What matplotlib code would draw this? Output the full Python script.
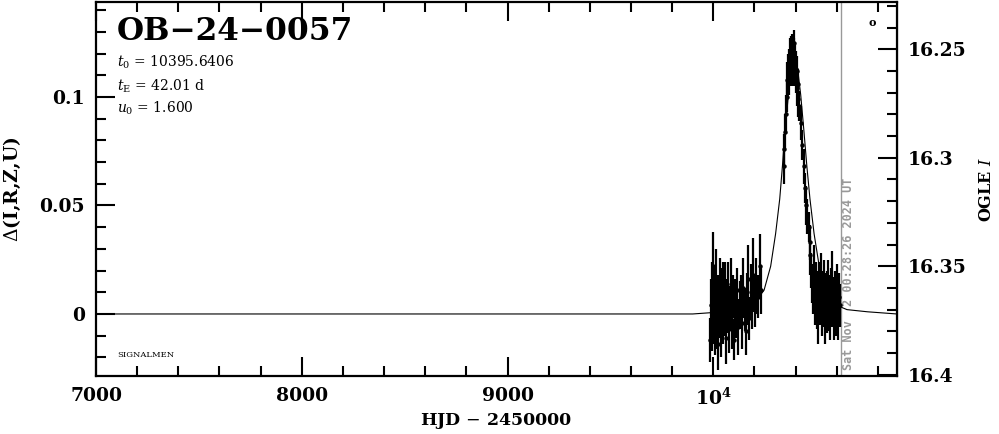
import matplotlib
matplotlib.use("Agg")
import matplotlib.pyplot as plt
from matplotlib.ticker import FixedLocator, MultipleLocator, FuncFormatter

plt.rcParams["font.family"] = "DejaVu Serif"
plt.rcParams["mathtext.fontset"] = "dejavuserif"

# 2023 season (baseline)
t23 = [9986, 9989, 9992, 9995, 9998, 10001, 10004, 10007, 10010, 10013, 10016, 10019,
       10022, 10025, 10028, 10031, 10034, 10037, 10040, 10043, 10046, 10049, 10052, 10056,
       10060, 10064, 10068, 10072, 10076, 10080, 10085, 10090, 10095, 10100, 10105, 10110,
       10116, 10122, 10128, 10134, 10140, 10146, 10152, 10158, 10164, 10170, 10176, 10182,
       10188, 10195, 10202, 10210, 10218, 10226, 10234]
d23 = [-0.012, 0.004, -0.008, 0.010, 0.022, 0.003, -0.004, 0.008, -0.010, 0.015, 0.001, -0.006,
       0.007, -0.014, 0.005, 0.012, -0.002, 0.009, -0.009, 0.004, 0.011, -0.005, 0.002, 0.013,
       -0.011, 0.006, 0.000, 0.010, -0.007, 0.003, 0.014, -0.003, 0.008, -0.012, 0.005, 0.001,
       0.011, -0.006, 0.004, 0.009, -0.004, 0.012, 0.002, -0.008, 0.007, 0.016, -0.002, 0.010,
       0.004, 0.018, 0.006, 0.013, 0.008, 0.022, 0.011]
e23 = [0.010, 0.012, 0.009, 0.014, 0.016, 0.011, 0.010, 0.013, 0.009, 0.015, 0.012, 0.010,
       0.011, 0.012, 0.010, 0.014, 0.009, 0.012, 0.011, 0.010, 0.013, 0.009, 0.012, 0.011,
       0.012, 0.010, 0.009, 0.014, 0.011, 0.010, 0.012, 0.013, 0.010, 0.009, 0.011, 0.012,
       0.010, 0.013, 0.011, 0.009, 0.012, 0.014, 0.010, 0.011, 0.012, 0.016, 0.010, 0.013,
       0.011, 0.017, 0.012, 0.013, 0.010, 0.015, 0.011]

# 2024 season (event)
t24 = [10343, 10346, 10349, 10352, 10356, 10360, 10364, 10367, 10370, 10373, 10376, 10379,
       10382, 10384, 10386, 10388, 10390, 10392, 10394, 10396, 10398, 10400, 10402, 10405,
       10408, 10411, 10414, 10418, 10425, 10433, 10440, 10447, 10453, 10458, 10463, 10468,
       10472, 10477, 10482, 10487, 10491, 10495, 10499, 10503, 10507, 10511, 10515, 10519,
       10523, 10527, 10531, 10535, 10539, 10543, 10547, 10551, 10555, 10559, 10563, 10567,
       10571, 10575, 10579, 10583, 10587, 10591, 10595, 10599, 10603, 10607, 10611, 10615]
d24 = [0.068, 0.076, 0.084, 0.092, 0.100, 0.108, 0.113, 0.110, 0.116, 0.119, 0.112, 0.120,
       0.116, 0.122, 0.113, 0.118, 0.125, 0.115, 0.119, 0.111, 0.117, 0.113, 0.108, 0.112,
       0.104, 0.106, 0.099, 0.096, 0.088, 0.078, 0.068, 0.058, 0.050, 0.045, 0.040, 0.033,
       0.027, 0.020, 0.014, 0.010, 0.018, 0.006, 0.012, 0.003, 0.009, -0.002, 0.011, 0.005,
       0.014, 0.001, 0.008, 0.004, 0.012, -0.003, 0.007, 0.010, 0.002, 0.013, 0.005, -0.001,
       0.009, 0.004, 0.015, 0.006, 0.000, 0.010, 0.003, 0.012, 0.005, -0.002, 0.008, 0.004]
e24 = [0.008, 0.007, 0.008, 0.009, 0.007, 0.008, 0.007, 0.009, 0.006, 0.008, 0.007, 0.008,
       0.006, 0.007, 0.008, 0.006, 0.006, 0.007, 0.008, 0.006, 0.007, 0.008, 0.006, 0.007,
       0.008, 0.007, 0.008, 0.007, 0.008, 0.007, 0.008, 0.007, 0.009, 0.008, 0.007, 0.008,
       0.009, 0.008, 0.009, 0.010, 0.014, 0.011, 0.012, 0.010, 0.011, 0.012, 0.013, 0.010,
       0.014, 0.011, 0.012, 0.010, 0.013, 0.011, 0.012, 0.010, 0.011, 0.012, 0.013, 0.011,
       0.012, 0.010, 0.014, 0.011, 0.012, 0.010, 0.013, 0.011, 0.012, 0.010, 0.011, 0.010]

# model curve
t_model = [7000, 9500, 9900, 10050, 10150, 10200, 10247, 10279, 10303, 10323, 10336, 10350,
           10365, 10380, 10396, 10410, 10425, 10440, 10455, 10470, 10490, 10515, 10550, 10600,
           10650, 10750, 10893]
d_model = [0.000, 0.000, 0.000, 0.001, 0.003, 0.005, 0.011, 0.022, 0.037, 0.053, 0.068, 0.085,
           0.101, 0.113, 0.117, 0.113, 0.101, 0.085, 0.068, 0.053, 0.037, 0.022, 0.010, 0.004,
           0.002, 0.001, 0.000]

I_base = 16.372
t_now = 10620
now_label = "Sat Nov  2 00:28:26 2024 UT"

fig = plt.figure(figsize=(9.99, 4.34), dpi=100)
ax = fig.add_axes([0.0961, 0.1336, 0.8018, 0.8618])

ax.plot(t_model, d_model, color="black", lw=0.8, zorder=2)
ax.errorbar(t23 + t24, d23 + d24, yerr=e23 + e24, fmt="o", ms=2.2, color="black",
            ecolor="black", elinewidth=1.6, capsize=0, zorder=3)

ax.axvline(t_now, color="#999999", lw=1.0, zorder=1)
ax.text(t_now + 8, -0.026, now_label, rotation=90, color="#999999", fontsize=8.5,
        family="DejaVu Sans Mono", fontweight="bold", ha="left", va="bottom")

ax.set_xlim(7000, 10893)
ax.set_ylim(-0.0286, 0.1438)

ax.xaxis.set_major_locator(FixedLocator([7000, 8000, 9000, 10000]))
ax.xaxis.set_minor_locator(MultipleLocator(200))
ax.set_xticklabels(["7000", "8000", "9000", r"$\mathbf{10^4}$"])
ax.yaxis.set_major_locator(FixedLocator([0, 0.05, 0.1]))
ax.yaxis.set_minor_locator(MultipleLocator(0.01))
ax.yaxis.set_major_formatter(FuncFormatter(lambda v, p: "%g" % round(v, 3)))

ax.tick_params(which="both", direction="in", top=True, right=False, width=1.5)
ax.tick_params(which="major", length=14, labelsize=13.5, pad=8)
ax.tick_params(which="minor", length=7)
for lab in ax.get_xticklabels() + ax.get_yticklabels():
    lab.set_fontweight("bold")
for sp in ax.spines.values():
    sp.set_linewidth(1.6)

mag = lambda d: I_base - d
sec = ax.secondary_yaxis("right", functions=(mag, mag))
sec.yaxis.set_major_locator(FixedLocator([16.25, 16.3, 16.35, 16.4]))
sec.yaxis.set_minor_locator(MultipleLocator(0.01))
sec.yaxis.set_major_formatter(FuncFormatter(lambda v, p: "%g" % round(v, 3)))
sec.tick_params(which="both", direction="in", width=1.5)
sec.tick_params(which="major", length=14, labelsize=13.5, pad=8)
sec.tick_params(which="minor", length=7)
for lab in sec.get_yticklabels():
    lab.set_fontweight("bold")
sec.set_ylabel(r"OGLE $I$", fontsize=11.5, fontweight="bold", labelpad=8)

ax.set_xlabel("HJD $-$ 2450000", fontsize=12.5, fontweight="bold", labelpad=2)
ax.set_ylabel(r"$\Delta$(I,R,Z,U)", fontsize=13.5, fontweight="bold", labelpad=12)

ax.text(0.026, 0.92, "OB\u221224\u22120057", transform=ax.transAxes, fontsize=22.5,
        fontweight="bold", va="center", ha="left")
ax.text(0.026, 0.84, r"$t_0$ = 10395.6406", transform=ax.transAxes, fontsize=10,
        va="center", ha="left")
ax.text(0.026, 0.775, r"$t_{\rm E}$ = 42.01 d", transform=ax.transAxes, fontsize=10,
        va="center", ha="left")
ax.text(0.026, 0.717, r"$u_0$ = 1.600", transform=ax.transAxes, fontsize=10,
        va="center", ha="left")
ax.text(0.026, 0.056, "SIGNALMEN", transform=ax.transAxes, fontsize=6,
        va="center", ha="left")
ax.text(0.969, 0.9465, "o", transform=ax.transAxes, fontsize=8, fontweight="bold",
        va="center", ha="center")

fig.savefig("out.png", dpi=100)
